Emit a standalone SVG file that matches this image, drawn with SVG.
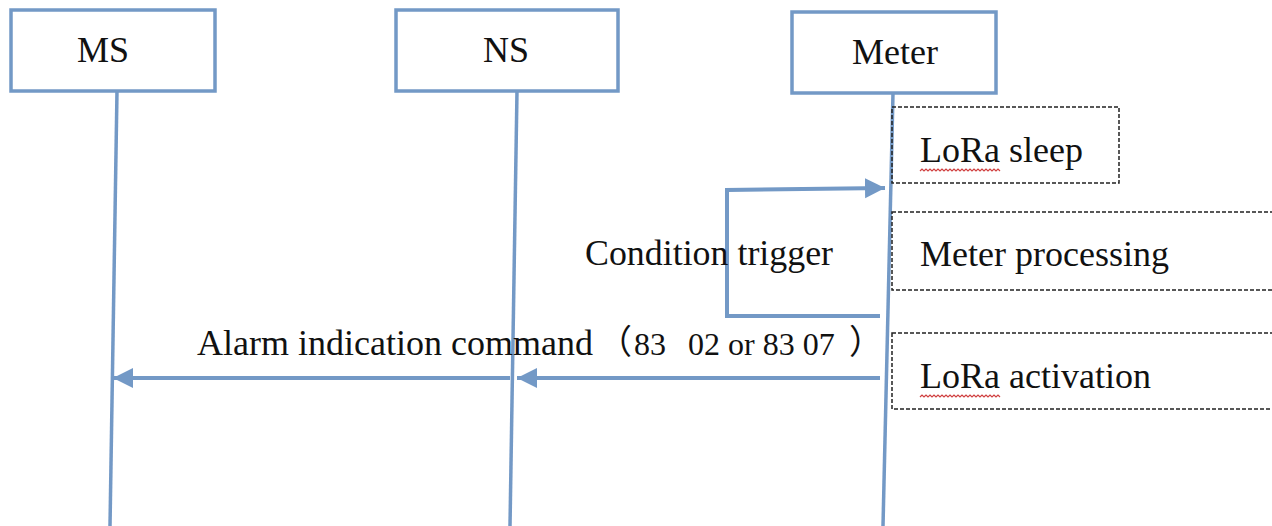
<svg xmlns="http://www.w3.org/2000/svg" width="1272" height="526" viewBox="0 0 1272 526">
<defs>
<style>
.box{fill:#fff;stroke:#7399c6;stroke-width:3.5}
.life{fill:none;stroke:#7399c6;stroke-width:3.5}
.msg{fill:none;stroke:#7399c6;stroke-width:4}
.dash{fill:none;stroke:#222;stroke-width:1.5;stroke-dasharray:4 2}
.t{font-family:"Liberation Serif","Noto Sans CJK SC",serif;font-size:36px;fill:#111}
.c{font-family:"Noto Sans CJK SC",sans-serif;font-size:34px}
.n{font-size:32px}
.sq{fill:none;stroke:#d04040;stroke-width:1.2}
</style>
<marker id="ah" markerUnits="userSpaceOnUse" markerWidth="22" markerHeight="22" refX="20" refY="11" orient="auto">
<path d="M0,1 L20,11 L0,21 Z" fill="#7399c6"/>
</marker>
</defs>
<rect width="1272" height="526" fill="#fff"/>
<g id="lifelines">
<line class="life" x1="117" y1="91" x2="110" y2="526"/>
<line class="life" x1="517" y1="91" x2="510" y2="526"/>
<line class="life" x1="893" y1="93" x2="883" y2="526"/>
</g>
<g id="node-ms">
<rect class="box" x="11" y="10" width="204" height="81"/>
<text class="t" x="103" y="62" text-anchor="middle">MS</text>
</g>
<g id="node-ns">
<rect class="box" x="396" y="10" width="222" height="81"/>
<text class="t" x="506" y="62" text-anchor="middle">NS</text>
</g>
<g id="node-meter">
<rect class="box" x="792" y="12" width="204" height="81"/>
<text class="t" x="895" y="64" text-anchor="middle">Meter</text>
</g>
<g id="state-sleep">
<rect class="dash" x="892" y="107" width="227" height="76"/>
<text class="t" x="920" y="162">LoRa sleep</text>
<path class="sq" d="M920,171 l2,-2 l2,2 l2,-2 l2,2 l2,-2 l2,2 l2,-2 l2,2 l2,-2 l2,2 l2,-2 l2,2 l2,-2 l2,2 l2,-2 l2,2 l2,-2 l2,2 l2,-2 l2,2 l2,-2 l2,2 l2,-2 l2,2 l2,-2 l2,2 l2,-2 l2,2 l2,-2 l2,2 l2,-2 l2,2 l2,-2 l2,2 l2,-2 l2,2 l2,-2 l2,2 l2,-2 l2,2"/>
</g>
<g id="state-processing">
<rect class="dash" x="892" y="212" width="400" height="78"/>
<text class="t" x="920" y="266">Meter processing</text>
</g>
<g id="state-activation">
<rect class="dash" x="892" y="333" width="400" height="76"/>
<text class="t" x="920" y="388">LoRa activation</text>
<path class="sq" d="M920,397 l2,-2 l2,2 l2,-2 l2,2 l2,-2 l2,2 l2,-2 l2,2 l2,-2 l2,2 l2,-2 l2,2 l2,-2 l2,2 l2,-2 l2,2 l2,-2 l2,2 l2,-2 l2,2 l2,-2 l2,2 l2,-2 l2,2 l2,-2 l2,2 l2,-2 l2,2 l2,-2 l2,2 l2,-2 l2,2 l2,-2 l2,2 l2,-2 l2,2 l2,-2 l2,2 l2,-2 l2,2"/>
</g>
<g id="connectors">
<polyline class="msg" points="880,316 727,316 727,190 885,188" marker-end="url(#ah)"/>
<line class="msg" x1="880" y1="378" x2="517" y2="378" marker-end="url(#ah)"/>
<line class="msg" x1="510" y1="378" x2="113" y2="378" marker-end="url(#ah)"/>
</g>
<g id="labels">
<text class="t" x="585" y="265" textLength="248" lengthAdjust="spacingAndGlyphs">Condition trigger</text>
<text class="t" id="alarm-label" x="197" y="355">Alarm indication command<tspan class="c" x="598" y="354">（</tspan><tspan class="n" x="634" y="355">83 </tspan><tspan class="n" dx="14">02 or 83 07</tspan><tspan class="c" x="849" y="354">）</tspan></text>
</g>
</svg>
